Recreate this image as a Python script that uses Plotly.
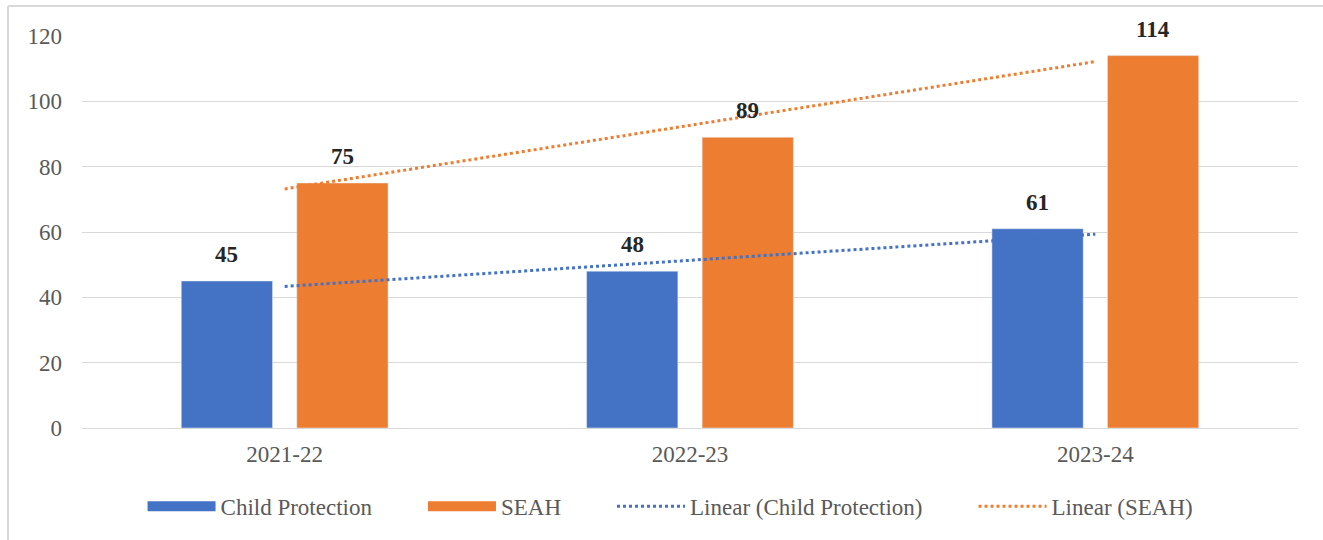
import numpy as np
import plotly.graph_objects as go

# ---- data ----
years = ["2021-22", "2022-23", "2023-24"]
child_protection = [45, 48, 61]
seah = [75, 89, 114]
y_ticks = [0, 20, 40, 60, 80, 100, 120]

BLUE = "#4472C4"
ORANGE = "#ED7D31"
FONT = "Liberation Serif, Times New Roman, serif"
FS = 23
PAD = "\u00a0" * 8  # extra spacing between legend entries

# linear trendlines (least squares, as Excel's "Linear" trendline)
idx = np.arange(len(years))
cp_fit = np.polyval(np.polyfit(idx, child_protection, 1), idx)
seah_fit = np.polyval(np.polyfit(idx, seah, 1), idx)

fig = go.Figure()
fig.add_bar(x=years, y=child_protection, name="Child Protection",
            marker_color=BLUE, showlegend=False, legendgroup="cp")
fig.add_bar(x=years, y=seah, name="SEAH",
            marker_color=ORANGE, showlegend=False, legendgroup="seah")
fig.add_scatter(x=years, y=cp_fit, mode="lines", showlegend=False,
                line=dict(color=BLUE, width=3, dash="dot"), legendgroup="cpl",
                hoverinfo="skip")
fig.add_scatter(x=years, y=seah_fit, mode="lines", showlegend=False,
                line=dict(color=ORANGE, width=3, dash="dot"), legendgroup="seahl",
                hoverinfo="skip")

# legend entries (wide swatches like the original)
fig.add_scatter(x=[None], y=[None], mode="lines", name="Child Protection" + PAD,
                line=dict(color=BLUE, width=13), legendgroup="cp")
fig.add_scatter(x=[None], y=[None], mode="lines", name="SEAH" + PAD,
                line=dict(color=ORANGE, width=13), legendgroup="seah")
fig.add_scatter(x=[None], y=[None], mode="lines", name="Linear (Child Protection)" + PAD,
                line=dict(color=BLUE, width=3, dash="dot"), legendgroup="cpl")
fig.add_scatter(x=[None], y=[None], mode="lines", name="Linear (SEAH)",
                line=dict(color=ORANGE, width=3, dash="dot"), legendgroup="seahl")

# value labels above bars
L, R, T, B = 82, 25, 36, 112
plot_w = 1323 - L - R
plot_h = 540 - T - B
slot = plot_w / len(years) * (1 - 0.43) / 2
for vals, sign in ((child_protection, -1), (seah, 1)):
    for yr, v in zip(years, vals):
        fig.add_annotation(x=yr, y=v, text=f"<b>{v}</b>", showarrow=False,
                           xshift=sign * slot / 2, yanchor="bottom", yshift=12,
                           font=dict(family=FONT, size=FS, color="#262626"))

fig.update_layout(
    width=1323, height=540,
    margin=dict(l=L, r=R, t=T, b=B),
    paper_bgcolor="white", plot_bgcolor="white",
    barmode="group", bargap=0.43, bargroupgap=0.21,
    font=dict(family=FONT, size=FS, color="#595959"),
    legend=dict(orientation="h", x=0.484, xanchor="center", y=-0.2, yanchor="middle",
                itemwidth=68, font=dict(family=FONT, size=FS, color="#595959"),
                traceorder="normal"),
    xaxis=dict(showgrid=False, showline=False, ticks="", ticklabelstandoff=10,
               tickfont=dict(family=FONT, size=FS, color="#595959")),
    yaxis=dict(range=[0, 120], tickvals=y_ticks, showgrid=True, gridcolor="#D9D9D9",
               gridwidth=1, zeroline=True, zerolinecolor="#D9D9D9", zerolinewidth=1,
               ticks="", ticklabelstandoff=19,
               tickfont=dict(family=FONT, size=FS, color="#595959")),
    shapes=[
        # outer frame: only the top and left edges are visible in the original
        dict(type="line", xref="paper", yref="paper",
             x0=(8 - L) / plot_w, x1=(1323 - L) / plot_w,
             y0=(428 - 6) / plot_h, y1=(428 - 6) / plot_h,
             line=dict(color="#D9D9D9", width=2), layer="below"),
        dict(type="line", xref="paper", yref="paper",
             x0=(8 - L) / plot_w, x1=(8 - L) / plot_w,
             y0=(428 - 540) / plot_h, y1=(428 - 6) / plot_h,
             line=dict(color="#D9D9D9", width=2), layer="below"),
    ],
)

fig.write_html("out.html")
